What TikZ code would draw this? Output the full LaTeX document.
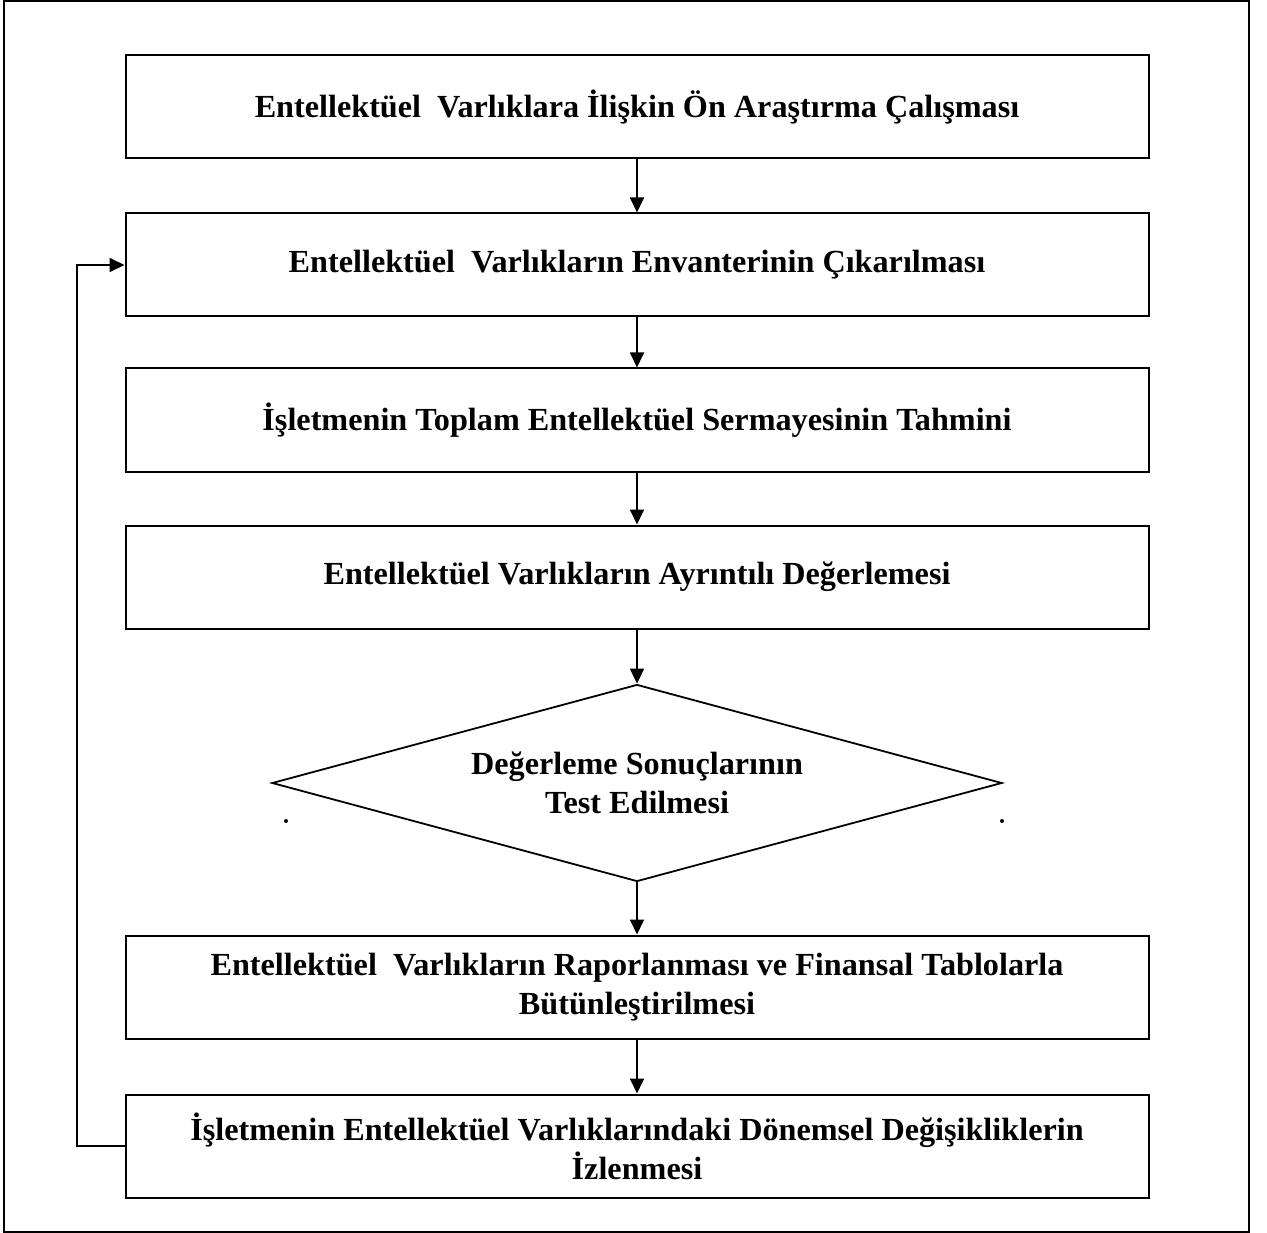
\documentclass[tikz,border=0pt]{standalone}
\usepackage{fontspec}
\setmainfont{Liberation Serif}
\usetikzlibrary{arrows.meta,shapes.geometric}
\begin{document}
\begin{tikzpicture}[x=1pt,y=-1pt,
  stepbox/.style={draw,line width=2pt,minimum width=1023pt,minimum height=103pt,inner sep=0pt,
    align=center,font=\fontsize{32.2}{39}\selectfont\bfseries},
  decision/.style={draw,line width=1.8pt,shape=diamond,aspect=3.7,minimum width=730pt,minimum height=197pt,
    inner sep=0pt,align=center,font=\fontsize{32.2}{39}\selectfont\bfseries},
  flow/.style={line width=1.8pt,-{Triangle[length=15pt,width=14pt]}}]
\useasboundingbox (0,0) rectangle (1267,1233);
\draw[line width=1.4pt] (4,1) rectangle (1249,1232);
\node[stepbox] (b1) at (637,107) {Entellektüel~ Varlıklara İlişkin Ön Araştırma Çalışması};
\node[stepbox] (b2) at (637,265) {Entellektüel~ Varlıkların Envanterinin Çıkarılması};
\node[stepbox] (b3) at (637,420) {İşletmenin Toplam Entellektüel Sermayesinin Tahmini};
\node[stepbox] (b4) at (637,577) {Entellektüel Varlıkların Ayrıntılı Değerlemesi};
\node[decision] (d) at (637,783) {Değerleme Sonuçlarının\\Test Edilmesi};
\node[stepbox] (b6) at (637,987) {Entellektüel~ Varlıkların Raporlanması ve Finansal Tablolarla\\Bütünleştirilmesi};
\node[stepbox] (b7) at (637,1146) {İşletmenin Entellektüel Varlıklarındaki Dönemsel Değişikliklerin\\İzlenmesi};
\fill (286,821) circle (2pt);
\fill (1002,821) circle (2pt);
\draw[flow] (b1) -- (b2);
\draw[flow] (b2) -- (b3);
\draw[flow] (b3) -- (b4);
\draw[flow] (b4.south) -- (d.north);
\draw[flow] (d.south) -- (b6.north);
\draw[flow] (b6) -- (b7);
\coordinate (fb) at (77,0);
\draw[flow] (b7.west) -- (fb |- b7.west) -- (fb |- b2.west) -- (b2.west);
\end{tikzpicture}
\end{document}
